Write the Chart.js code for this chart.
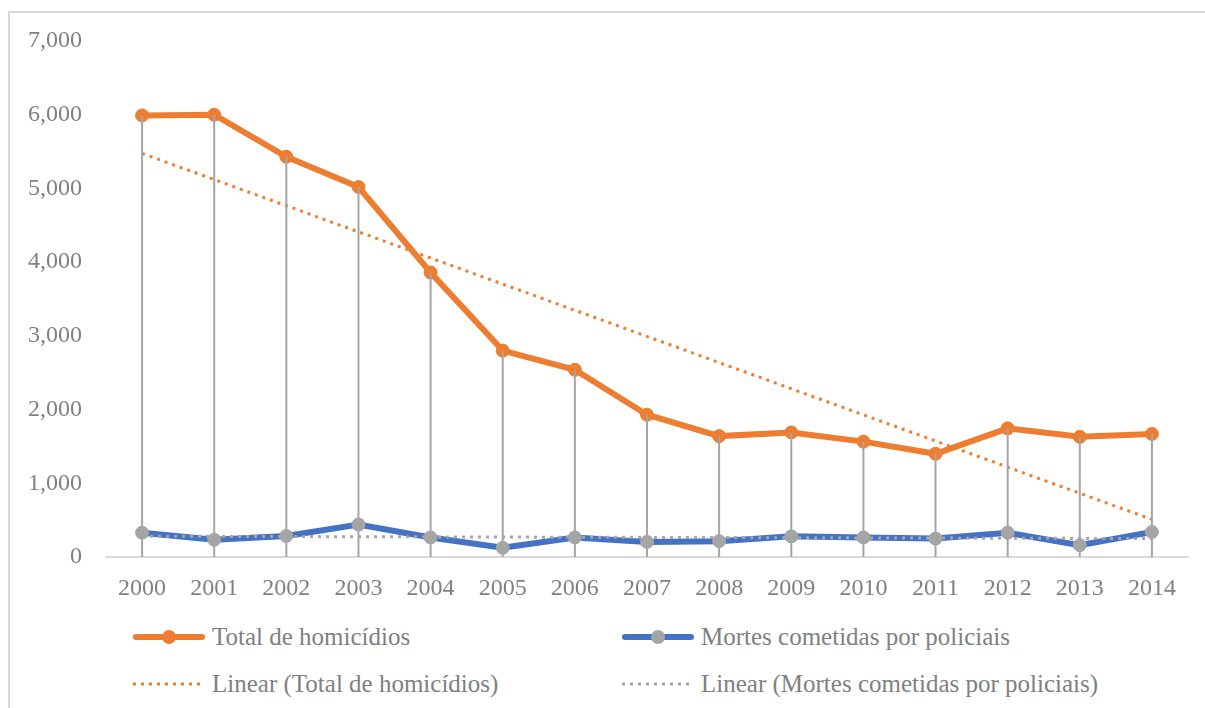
<!DOCTYPE html>
<html>
<head>
<meta charset="utf-8">
<script src="https://cdn.jsdelivr.net/npm/chart.js@4"></script>
<style>
  body { margin: 0; background: #fff; overflow: hidden; width: 1205px; height: 708px; position: relative; }
  #frame { position: absolute; left: 8px; top: 11px; width: 1300px; height: 800px; border: 2px solid #d9d9d9; }
  #c { position: absolute; left: 0; top: 0; }
  .item { position: absolute; display: flex; align-items: center; font: 25px "Liberation Serif", serif; color: #808080; white-space: nowrap; }
  .item svg { margin-right: 7px; }
</style>
</head>
<body>
<div id="frame"></div>
<canvas id="c" width="1205" height="610"></canvas>
<div id="legend"></div>
<script>
const years = ['2000', '2001', '2002', '2003', '2004', '2005', '2006', '2007',
               '2008', '2009', '2010', '2011', '2012', '2013', '2014'];
const totalHomicidios = [5990, 6000, 5430, 5020, 3860, 2800, 2540, 1930, 1640, 1690, 1565, 1400, 1745, 1630, 1670];
const mortesPoliciais = [330, 235, 285, 440, 265, 125, 265, 205, 215, 280, 265, 250, 330, 160, 340];
// linear trendlines as shown in the picture, values at 2000 and 2014
const trendTotal = [5475, 510];
const trendPoliciais = [282, 250];
const yTicks = [0, 1000, 2000, 3000, 4000, 5000, 6000, 7000];

const labelTotal = 'Total de homicídios';
const labelPoliciais = 'Mortes cometidas por policiais';

const orange = '#ed7d31';
const blue = '#4472c4';
const gray = '#a5a5a5';

// vertical drop lines from the highest point down to the category axis
const dropLines = {
    id: 'dropLines',
    afterDatasetsDraw(chart) {
        const ctx = chart.ctx;
        const x = chart.scales.x, y = chart.scales.y;
        const base = y.getPixelForValue(0);
        ctx.save();
        ctx.strokeStyle = gray;
        ctx.lineWidth = 2;
        for (let i = 0; i < years.length; i++) {
            const top = Math.max(totalHomicidios[i], mortesPoliciais[i]);
            const px = x.getPixelForValue(i);
            ctx.beginPath();
            ctx.moveTo(px, y.getPixelForValue(top));
            ctx.lineTo(px, base);
            ctx.stroke();
        }
        ctx.restore();
    }
};

const chart = new Chart('c', {
    type: 'line',
    data: {
        labels: years,
        datasets: [{
            label: 'Linear (' + labelTotal + ')',
            data: [{ x: years[0], y: trendTotal[0] }, { x: years[years.length - 1], y: trendTotal[1] }],
            borderColor: orange,
            borderWidth: 3,
            borderDash: [3, 5],
            pointRadius: 0,
            fill: false,
            order: 0
        }, {
            label: 'Linear (' + labelPoliciais + ')',
            data: [{ x: years[0], y: trendPoliciais[0] }, { x: years[years.length - 1], y: trendPoliciais[1] }],
            borderColor: gray,
            borderWidth: 3,
            borderDash: [3, 5],
            pointRadius: 0,
            fill: false,
            order: 1
        }, {
            label: labelTotal,
            data: totalHomicidios,
            borderColor: orange,
            backgroundColor: orange,
            borderWidth: 6,
            pointRadius: 6.5,
            pointBackgroundColor: orange,
            pointBorderColor: orange,
            pointBorderWidth: 1,
            fill: false,
            order: 2
        }, {
            label: labelPoliciais,
            data: mortesPoliciais,
            borderColor: blue,
            backgroundColor: blue,
            borderWidth: 6,
            pointRadius: 6.5,
            pointBackgroundColor: gray,
            pointBorderColor: gray,
            pointBorderWidth: 1,
            fill: false,
            order: 3
        }]
    },
    options: {
        responsive: false,
        animation: false,
        layout: { padding: { left: 10, right: 17, top: 41, bottom: 0 } },
        plugins: {
            legend: { display: false },
            tooltip: { enabled: false }
        },
        scales: {
            x: {
                offset: true,
                grid: { display: false },
                border: { display: true, color: '#d9d9d9', width: 2 },
                ticks: {
                    color: '#808080',
                    padding: 9,
                    font: { family: 'Liberation Serif', size: 24 }
                },
                afterFit: (s) => { s.height = 53; }
            },
            y: {
                min: yTicks[0],
                max: yTicks[yTicks.length - 1],
                grid: { display: false, drawTicks: false },
                border: { display: false },
                ticks: {
                    stepSize: yTicks[1] - yTicks[0],
                    color: '#808080',
                    padding: 24,
                    font: { family: 'Liberation Serif', size: 24 },
                    callback: (v) => v.toLocaleString('en-US')
                },
                afterFit: (s) => { s.width = 96; }
            }
        }
    },
    plugins: [dropLines]
});

// legend in two columns, as in the picture
const legendOrder = [2, 3, 0, 1];
const legendPos = [[133, 622], [622, 622], [133, 669], [622, 669]];
const legend = document.getElementById('legend');
legendOrder.forEach((di, k) => {
    const ds = chart.data.datasets[di];
    const item = document.createElement('div');
    item.className = 'item';
    item.style.left = legendPos[k][0] + 'px';
    item.style.top = legendPos[k][1] + 'px';
    item.style.height = '30px';
    let sym;
    if (ds.borderDash) {
        sym = '<svg width="72" height="20"><line x1="0" y1="10" x2="72" y2="10" stroke="' + ds.borderColor +
              '" stroke-width="3" stroke-dasharray="3 5"/></svg>';
    } else {
        sym = '<svg width="72" height="20"><line x1="3" y1="10" x2="69" y2="10" stroke="' + ds.borderColor +
              '" stroke-width="6" stroke-linecap="round"/><circle cx="36" cy="10" r="7" fill="' +
              ds.pointBackgroundColor + '"/></svg>';
    }
    item.innerHTML = sym + '<span>' + ds.label + '</span>';
    legend.appendChild(item);
});
</script>
</body>
</html>
